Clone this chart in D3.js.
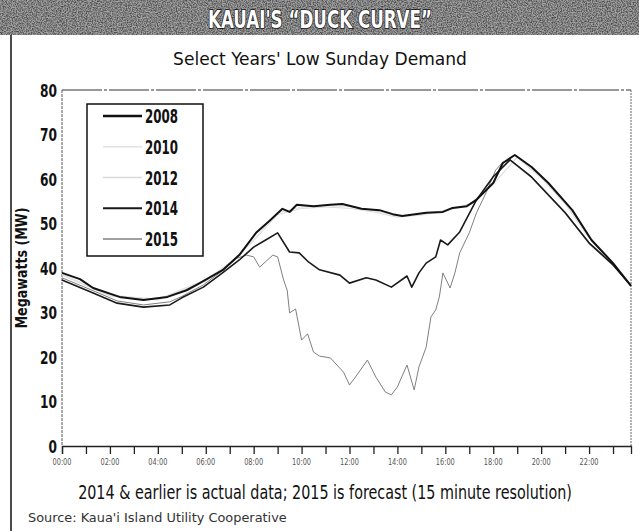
<!DOCTYPE html>
<html lang="en">
<head>
  <meta charset="utf-8">
  <title>Kauai's Duck Curve</title>
  <script src="https://d3js.org/d3.v7.min.js"></script>
  <style>
    body { margin: 0; padding: 0; background: #fff; }
    svg { display: block; }
    text { font-family: "Liberation Sans Narrow", "DejaVu Sans Condensed", "Roboto", sans-serif; }
  </style>
</head>
<body>
  <div id="chart"></div>
  <script>
    // Hours of day and megawatts
    const hours2008 = [0, 0.75, 1.3, 2.4, 3.4, 4.4, 5.2, 5.75, 6.7, 7.4, 8.1, 8.7, 9.2, 9.5, 9.8, 10.5, 11.2, 11.7, 12.5, 13.25, 13.8, 14.2, 15.2, 15.9, 16.3, 16.9, 17.3, 18, 18.4, 18.9, 19.6, 20.3, 21.3, 22.1, 23, 23.75];
    const mw2008 = [38.9, 37.5, 35.5, 33.5, 32.8, 33.5, 35, 36.6, 39.5, 42.9, 47.9, 50.8, 53.3, 52.6, 54.2, 53.9, 54.2, 54.4, 53.3, 53, 52.1, 51.7, 52.4, 52.6, 53.5, 53.9, 55.3, 59.1, 63.6, 65.4, 62.7, 59.1, 53, 46.3, 41.1, 36];

    const hours2010 = [0, 2, 4, 6, 7, 8, 9, 10, 11, 12, 13, 14, 15, 16, 17, 18, 19, 20, 21, 22, 23, 23.75];
    const mw2010 = [38.6, 33.9, 33.0, 37.4, 41.2, 46.4, 52.4, 53.7, 54.0, 53.8, 52.9, 51.7, 52.1, 53.0, 54.4, 58.8, 65.0, 60.5, 54.8, 47.0, 41.0, 36];

    const hours2012 = [0, 2, 4, 6, 7, 8, 9, 10, 11, 12, 13, 14, 15, 16, 17, 18, 19, 20, 21, 22, 23, 23.75];
    const mw2012 = [38.4, 33.7, 32.8, 37.1, 40.9, 46.1, 52.0, 53.4, 53.7, 53.4, 52.6, 51.4, 51.9, 52.8, 54.2, 58.9, 64.8, 60.2, 54.4, 46.7, 40.8, 36];

    const hours2014 = [0, 1.3, 2.3, 3.4, 4.5, 5, 5.9, 6.7, 7.4, 8, 8.5, 9, 9.5, 9.9, 10.3, 10.75, 11.6, 12, 12.7, 13.1, 13.75, 14.4, 14.6, 14.9, 15.2, 15.6, 15.8, 16.1, 16.6, 17.3, 18, 18.7, 19.6, 21, 22, 23, 23.75];
    const mw2014 = [37.3, 34.4, 32.1, 31.2, 31.7, 33.3, 35.7, 38.9, 41.8, 44.7, 46.3, 47.9, 43.6, 43.4, 41.3, 39.6, 38.4, 36.6, 37.8, 37.3, 35.7, 38.2, 35.7, 38.9, 41.1, 42.5, 46.3, 45.2, 48.1, 55.3, 60.5, 64.3, 60.4, 52.4, 45.6, 40.7, 36];

    const hours2015 = [0, 1.3, 2.3, 3.4, 4.5, 5, 5.9, 6.7, 7.3, 7.7, 8, 8.25, 8.8, 9, 9.25, 9.4, 9.5, 9.75, 10, 10.25, 10.5, 10.75, 11.2, 11.75, 12, 12.25, 12.75, 13.1, 13.5, 13.75, 14, 14.4, 14.7, 14.9, 15.2, 15.4, 15.6, 15.75, 15.9, 16.2, 16.4, 16.6, 17, 17.3, 17.7, 18.1, 18.4, 18.7, 19.6, 21, 22, 23, 23.75];
    const mw2015 = [37.8, 34.9, 32.6, 31.7, 32.4, 33.6, 36.2, 39.4, 42.2, 42.9, 42.5, 40.2, 42.9, 42.5, 37.3, 35, 29.9, 30.8, 23.8, 25.2, 21.1, 20.2, 19.8, 16.6, 13.7, 15.5, 19.3, 15.5, 12.1, 11.5, 13.3, 18.2, 12.6, 17.8, 22.2, 29, 30.6, 33.5, 38.9, 35.5, 38.9, 43.4, 47.9, 52.4, 56.9, 62, 63.8, 64.3, 60.6, 52.6, 45.8, 40.9, 36];

    const years = ["2008", "2010", "2012", "2014", "2015"];
    const yTicks = [0, 10, 20, 30, 40, 50, 60, 70, 80];
    const xTickHours = d3.range(0, 24);
    const xLabelHours = d3.range(0, 24, 2);

    const series = [
      { year: "2008", hours: hours2008, values: mw2008, color: "#111", width: 2 },
      { year: "2010", hours: hours2010, values: mw2010, color: "#e2e2e2", width: 1 },
      { year: "2012", hours: hours2012, values: mw2012, color: "#dadada", width: 1 },
      { year: "2014", hours: hours2014, values: mw2014, color: "#1a1a1a", width: 1.6 },
      { year: "2015", hours: hours2015, values: mw2015, color: "#808080", width: 1 }
    ];

    const W = 639, H = 531;
    const plot = { left: 62, right: 631, top: 90, bottom: 446 };

    const svg = d3.select("#chart").append("svg")
      .attr("width", W).attr("height", H);

    // squeeze a text horizontally so it spans the given width (condensed look)
    function fitText(sel, cx, cy, targetWidth, anchor, rotate) {
      sel.attr("x", 0).attr("y", 0).attr("text-anchor", anchor || "middle");
      const w = sel.node().getComputedTextLength();
      const rot = rotate ? ` rotate(${rotate})` : "";
      sel.attr("transform", `translate(${cx},${cy})${rot} scale(${targetWidth / w},1)`);
      return sel;
    }

    // textured banner
    const defs = svg.append("defs");
    const f = defs.append("filter").attr("id", "grain")
      .attr("x", 0).attr("y", 0).attr("width", "100%").attr("height", "100%");
    f.append("feTurbulence").attr("type", "fractalNoise")
      .attr("baseFrequency", 0.8).attr("numOctaves", 2).attr("seed", 3).attr("result", "noise");
    f.append("feColorMatrix").attr("in", "noise").attr("type", "matrix")
      .attr("values", "0 0 0 0 0  0 0 0 0 0  0 0 0 0 0  0 0 0 -2.2 1.5");
    f.append("feComposite").attr("in2", "SourceGraphic").attr("operator", "in");

    svg.append("rect").attr("x", 0).attr("y", 0).attr("width", W).attr("height", 35)
      .attr("fill", "#a4a4a4");
    svg.append("rect").attr("x", 0).attr("y", 0).attr("width", W).attr("height", 35)
      .attr("fill", "#fff").attr("filter", "url(#grain)").attr("opacity", 0.55);

    fitText(svg.append("text")
      .attr("font-size", 25).attr("font-weight", "bold")
      .attr("fill", "#fff").attr("stroke", "#111").attr("stroke-width", 1.6)
      .attr("paint-order", "stroke")
      .text("KAUAI'S \u201CDUCK CURVE\u201D"), 320, 28, 224);

    // page left rule
    svg.append("line").attr("x1", 11).attr("x2", 11).attr("y1", 35).attr("y2", H)
      .attr("stroke", "#111").attr("stroke-width", 1.5);

    fitText(svg.append("text")
      .attr("font-size", 17).attr("fill", "#111")
      .text("Select Years' Low Sunday Demand"), 320, 65, 294);

    const x = d3.scaleLinear().domain([0, 23.75]).range([plot.left, plot.right]);
    const y = d3.scaleLinear().domain([0, 80]).range([plot.bottom, plot.top]);

    // frame
    svg.append("line").attr("x1", plot.left).attr("x2", plot.right)
      .attr("y1", plot.top).attr("y2", plot.top)
      .attr("stroke", "#333").attr("stroke-width", 1).attr("stroke-dasharray", "40 2 3 2");
    svg.append("line").attr("x1", plot.right).attr("x2", plot.right)
      .attr("y1", plot.top).attr("y2", plot.bottom)
      .attr("stroke", "#666").attr("stroke-width", 1).attr("stroke-dasharray", "2 1");
    svg.append("line").attr("x1", plot.left).attr("x2", plot.left)
      .attr("y1", plot.top).attr("y2", plot.bottom)
      .attr("stroke", "#555").attr("stroke-width", 1).attr("stroke-dasharray", "3 1");

    // x axis
    const xAxis = d3.axisBottom(x)
      .tickValues(xTickHours)
      .tickSize(8)
      .tickFormat("");
    const gx = svg.append("g").attr("transform", `translate(0,${plot.bottom})`).call(xAxis);
    gx.select(".domain").attr("stroke", "#222").attr("stroke-width", 1.3);
    gx.selectAll(".tick line").attr("stroke", "#222").attr("stroke-width", 1.3);

    svg.append("g").selectAll("text")
      .data(xLabelHours)
      .join("text")
      .attr("font-size", 9)
      .attr("fill", "#555")
      .text(d => d3.format("02")(d) + ":00")
      .each(function(d) { fitText(d3.select(this), x(d), plot.bottom + 19, 19); });

    // y axis labels
    svg.append("g").selectAll("text")
      .data(yTicks)
      .join("text")
      .attr("font-size", 18).attr("font-weight", "bold").attr("fill", "#111")
      .text(d => d)
      .each(function(d) {
        fitText(d3.select(this), plot.left - 5, y(d) + 6.5, String(d).length * 8.5, "end");
      });

    fitText(svg.append("text")
      .attr("font-size", 16).attr("font-weight", "bold").attr("fill", "#111")
      .text("Megawatts (MW)"), 27, 268, 121, "middle", -90);

    // lines
    const line = d3.line().x(d => x(d[0])).y(d => y(d[1]));
    const drawOrder = ["2010", "2012", "2015", "2014", "2008"];
    drawOrder.forEach(yr => {
      const s = series.find(d => d.year === yr);
      svg.append("path")
        .datum(d3.zip(s.hours, s.values))
        .attr("d", line)
        .attr("fill", "none")
        .attr("stroke", s.color)
        .attr("stroke-width", s.width)
        .attr("stroke-linejoin", "round");
    });

    // legend
    const legend = svg.append("g");
    legend.append("rect").attr("x", 87).attr("y", 104).attr("width", 116).attr("height", 152)
      .attr("fill", "#fff").attr("stroke", "#111").attr("stroke-width", 1.5);
    const ly = d3.scalePoint().domain(years).range([116, 239]);
    years.forEach(yr => {
      const s = series.find(d => d.year === yr);
      legend.append("line")
        .attr("x1", 103).attr("x2", 142)
        .attr("y1", ly(yr)).attr("y2", ly(yr))
        .attr("stroke", s.color).attr("stroke-width", s.width + 0.4);
      fitText(legend.append("text")
        .attr("font-size", 20).attr("font-weight", "bold").attr("fill", "#111")
        .text(yr), 145, ly(yr) + 7, 33, "start");
    });

    // footnotes
    fitText(svg.append("text")
      .attr("font-size", 20).attr("fill", "#111")
      .text("2014 & earlier is actual data; 2015 is forecast (15 minute resolution)"), 325, 499, 494);

    fitText(svg.append("text")
      .attr("font-size", 13).attr("fill", "#333")
      .text("Source: Kaua'i Island Utility Cooperative"), 28, 522, 259, "start");
  </script>
</body>
</html>
